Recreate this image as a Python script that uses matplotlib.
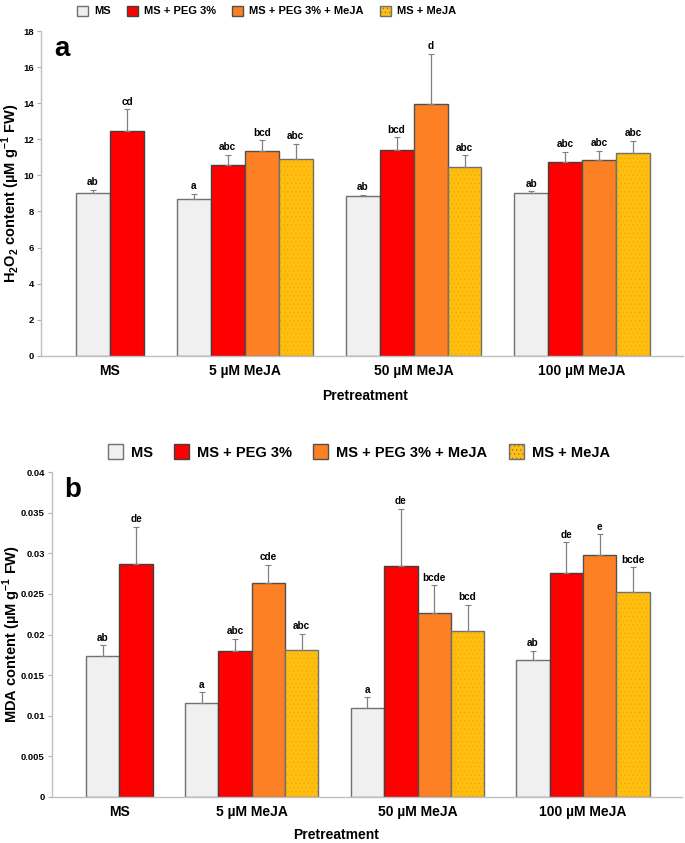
import numpy as np
import matplotlib
matplotlib.use("Agg")
import matplotlib.pyplot as plt
from matplotlib.patches import Patch

plt.rcParams['font.family'] = ['Liberation Sans', 'DejaVu Sans']
plt.rcParams['font.weight'] = 'bold'
plt.rcParams['hatch.linewidth'] = 0.4

groups = ["MS", "5 µM MeJA", "50 µM MeJA", "100 µM MeJA"]
treatments = ["MS", "MS + PEG 3%", "MS + PEG 3% + MeJA", "MS + MeJA"]
colors = ["#f0f0f0", "#ff0000", "#fd8124", "#ffbe10"]
edges = ["#707070", "#404040", "#505050", "#707070"]

# panel a: H2O2 (rows = groups, cols = treatments)
h2o2 = [[9.02, 12.46, np.nan, np.nan],
        [8.69, 10.58, 11.35, 10.93],
        [8.86, 11.39, 13.94, 10.45],
        [9.04, 10.76, 10.85, 11.26]]
h2o2_err = [[0.19, 1.20, np.nan, np.nan],
            [0.30, 0.55, 0.60, 0.83],
            [0.05, 0.72, 2.80, 0.66],
            [0.08, 0.55, 0.50, 0.67]]
h2o2_let = [["ab", "cd", "", ""],
            ["a", "abc", "bcd", "abc"],
            ["ab", "bcd", "d", "abc"],
            ["ab", "abc", "abc", "abc"]]

# panel b: MDA
mda = [[0.0174, 0.0287, np.nan, np.nan],
       [0.0115, 0.0180, 0.0264, 0.0181],
       [0.0110, 0.0285, 0.0227, 0.0204],
       [0.0168, 0.0276, 0.0298, 0.0252]]
mda_err = [[0.0013, 0.0046, np.nan, np.nan],
           [0.0014, 0.0015, 0.0022, 0.0020],
           [0.0013, 0.0070, 0.0034, 0.0033],
           [0.0012, 0.0038, 0.0026, 0.0031]]
mda_let = [["ab", "de", "", ""],
           ["a", "abc", "cde", "abc"],
           ["a", "de", "bcde", "bcd"],
           ["ab", "de", "e", "bcde"]]

centers = [0, 3.97, 8.94, 13.9]

fig = plt.figure(figsize=(6.85, 8.43), dpi=100)
ax_a = fig.add_axes([0.0599, 0.578, 0.937, 0.385])
ax_b = fig.add_axes([0.0755, 0.0549, 0.920, 0.3848])


def draw(ax, vals, errs, lets, ymax, yticks, ticklabels, ylabel, letter, pad, ylab_x, xlab_xy):
    for g, c in enumerate(centers):
        n = int(np.sum(~np.isnan(vals[g])))
        offs = np.arange(n) - (n - 1) / 2
        for t in range(n):
            x = c + offs[t]
            if t == 3:
                ax.bar(x, vals[g][t], width=1.0, color=colors[t], edgecolor="#f0a800",
                       linewidth=0, hatch="....", zorder=2)
                ax.bar(x, vals[g][t], width=1.0, fill=False, edgecolor=edges[t],
                       linewidth=1.0, zorder=2)
            else:
                ax.bar(x, vals[g][t], width=1.0, color=colors[t], edgecolor=edges[t],
                       linewidth=1.0, zorder=2)
            ax.errorbar(x, vals[g][t], yerr=[[0], [errs[g][t]]], fmt="none",
                        ecolor="#808080", elinewidth=0.9, capsize=2, capthick=0.8, zorder=3)
            ax.text(x, vals[g][t] + errs[g][t] + pad, lets[g][t], ha="center", va="bottom",
                    fontsize=7.2, fontweight="bold")
    ax.set_xlim(-2.03, 16.87)
    ax.set_ylim(0, ymax)
    ax.set_yticks(yticks)
    ax.set_yticklabels(ticklabels)
    ax.set_xticks(centers)
    ax.set_xticklabels(groups, fontsize=10, fontweight="bold")
    ax.tick_params(axis="x", length=0, pad=6)
    ax.tick_params(axis="y", length=3, width=0.8, color="#b0b0b0", labelsize=6.8, pad=2)
    for s in ["top", "right"]:
        ax.spines[s].set_visible(False)
    for s in ["left", "bottom"]:
        ax.spines[s].set_color("#c0c0c0")
        ax.spines[s].set_linewidth(1.0)
    ax.set_ylabel(ylabel, fontsize=10.5, fontweight="bold")
    ax.yaxis.set_label_coords(ylab_x, 0.5)
    ax.set_xlabel("Pretreatment", fontsize=10, fontweight="bold")
    ax.xaxis.set_label_coords(*xlab_xy)
    ax.text(0.02, 0.985, letter, transform=ax.transAxes, fontsize=20, fontweight="bold",
            va="top", ha="left")


draw(ax_a, h2o2, h2o2_err, h2o2_let, 18, np.arange(0, 19, 2),
     [str(v) for v in range(0, 19, 2)],
     "H$_\\mathregular{2}$O$_\\mathregular{2}$ content (µM g$^\\mathregular{-1}$ FW)", "a", 0.15,
     -0.030, (0.505, -0.1026))
b_ticks = [0, 0.005, 0.01, 0.015, 0.02, 0.025, 0.03, 0.035, 0.04]
draw(ax_b, mda, mda_err, mda_let, 0.04, b_ticks,
     ["0", "0.005", "0.01", "0.015", "0.02", "0.025", "0.03", "0.035", "0.04"],
     "MDA content (µM g$^\\mathregular{-1}$ FW)", "b", 0.0003,
     -0.046, (0.451, -0.0965))


def handles():
    hs = []
    for i in range(4):
        if i == 3:
            hs.append(Patch(facecolor=colors[i], edgecolor=edges[i], hatch="...."))
        else:
            hs.append(Patch(facecolor=colors[i], edgecolor=edges[i]))
    return hs


fig.legend(handles(), treatments, loc="center", bbox_to_anchor=(0.389, 0.987), ncol=4,
           frameon=False, handlelength=1.0, handleheight=1.0,
           columnspacing=1.45, handletextpad=0.55, prop={"weight": "bold", "size": 8.0})
fig.legend(handles(), treatments, loc="center", bbox_to_anchor=(0.524, 0.464), ncol=4,
           frameon=False, handlelength=1.03, handleheight=1.2,
           columnspacing=1.45, handletextpad=0.55, prop={"weight": "bold", "size": 10.5})

fig.savefig("out.png", dpi=100)
